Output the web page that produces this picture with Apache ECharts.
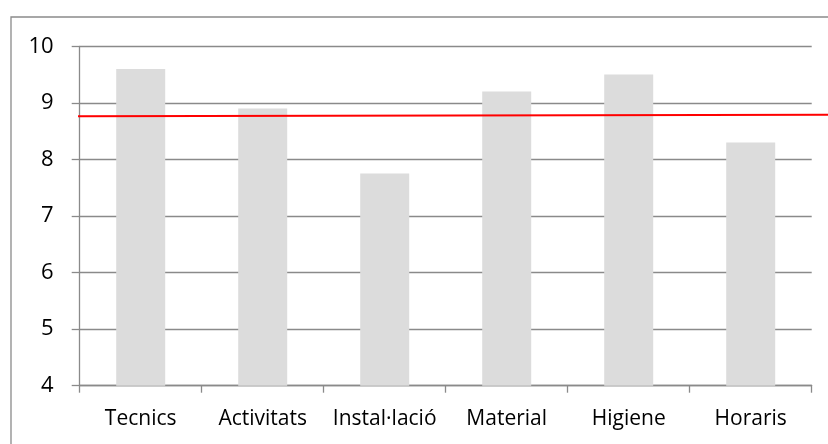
<!DOCTYPE html>
<html>
<head>
<meta charset="utf-8">
<script src="https://cdn.jsdelivr.net/npm/echarts@6/dist/echarts.min.js"></script>
<style>
  html, body { margin: 0; padding: 0; background: #fff; }
</style>
</head>
<body>
<div id="chart" style="width: 828px;height: 444px;"></div>
<script>
const categories = ['Tecnics', 'Activitats', 'Instal·lació', 'Material', 'Higiene', 'Horaris']
const scores = [9.6, 8.9, 7.75, 9.2, 9.5, 8.3]
// línia vermella de referència (extrem esquerre i dret)
const refLine = [[0, 8.765], [1, 8.79]]
const yTicks = { min: 4, max: 10, interval: 1 }

const chart = echarts.init(document.getElementById('chart'))
const axisGray = '#8a8a8a'
const font = '"Open Sans", sans-serif'

chart.setOption({
  animation: false,
  graphic: [
    {
      type: 'rect',
      shape: { x: 11, y: 17, width: 900, height: 500 },
      style: { fill: 'none', stroke: axisGray, lineWidth: 1.3 },
      silent: true
    }
  ],
  grid: [
    { left: 79.7, right: 16.3, top: 46.3, bottom: 58.3 },
    { left: 78, right: 0, top: 46.3, bottom: 58.3 }
  ],
  xAxis: [
    {
      type: 'category',
      data: categories,
      gridIndex: 0,
      axisLine: { lineStyle: { color: axisGray, width: 1.3 } },
      axisTick: { show: true, interval: 0, length: 7, lineStyle: { color: axisGray, width: 1.3 } },
      axisLabel: { interval: 0, hideOverlap: false, color: '#000', fontSize: 21, fontFamily: font, margin: 23 }
    },
    { type: 'value', gridIndex: 1, min: 0, max: 1, show: false }
  ],
  yAxis: [
    {
      type: 'value',
      gridIndex: 0,
      min: yTicks.min,
      max: yTicks.max,
      interval: yTicks.interval,
      axisLine: { show: true, lineStyle: { color: axisGray, width: 1.3 } },
      axisTick: { show: true, length: 8, lineStyle: { color: axisGray, width: 1.3 } },
      axisLabel: { color: '#000', fontSize: 22, fontFamily: font, margin: 26 },
      splitLine: { show: true, lineStyle: { color: axisGray, width: 1.3 } }
    },
    { type: 'value', gridIndex: 1, min: yTicks.min, max: yTicks.max, show: false }
  ],
  series: [
    {
      type: 'bar',
      xAxisIndex: 0,
      yAxisIndex: 0,
      data: scores,
      barWidth: 49,
      itemStyle: { color: '#dcdcdc' }
    },
    {
      type: 'line',
      xAxisIndex: 1,
      yAxisIndex: 1,
      data: refLine,
      symbol: 'none',
      lineStyle: { color: '#ff0000', width: 2 }
    }
  ]
})
</script>
</body>
</html>
